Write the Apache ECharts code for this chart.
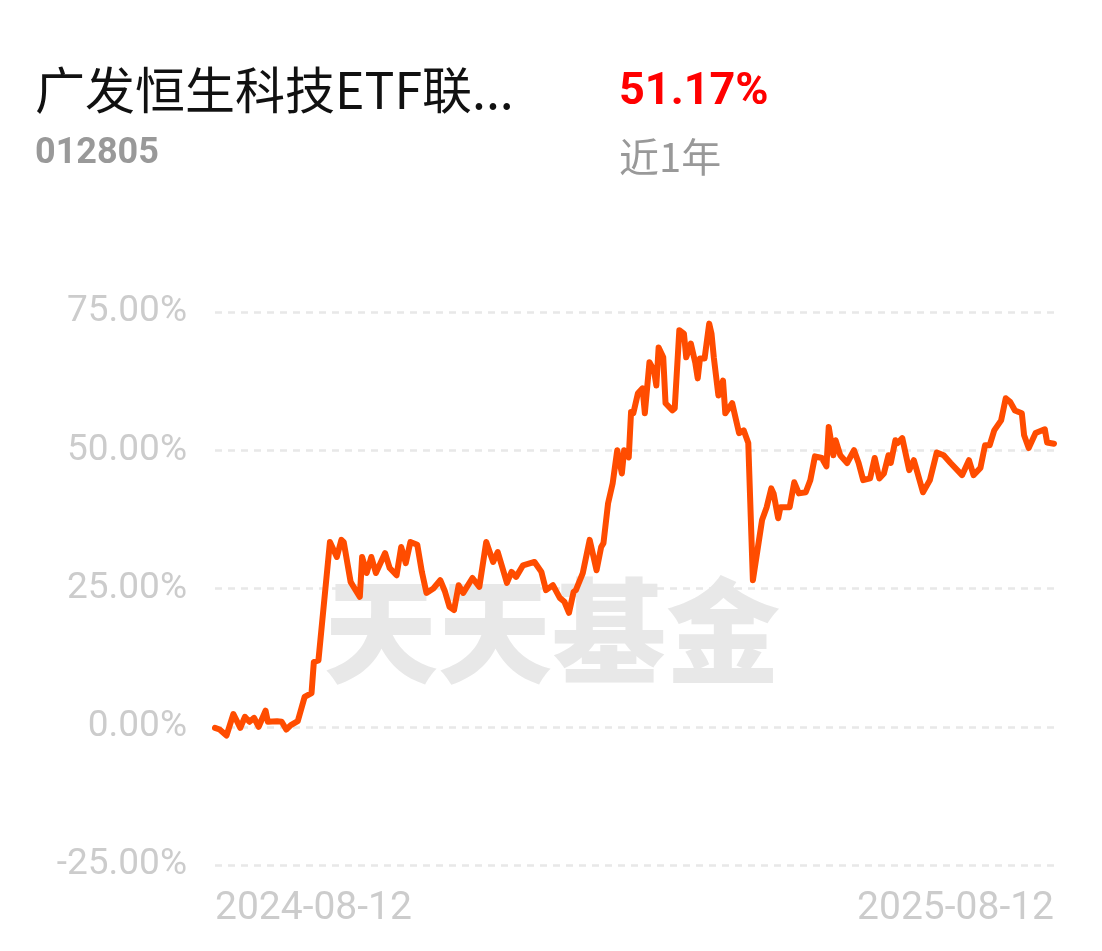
<!DOCTYPE html>
<html>
<head>
<meta charset="utf-8">
<script src="https://cdn.jsdelivr.net/npm/echarts@6/dist/echarts.min.js"></script>
<style>
html,body{margin:0;padding:0;background:#fff;}
#chart{width:1102px;height:951px;}
</style>
</head>
<body>
<div id="chart"></div>
<script>
// Day offsets from 2024-08-12 and cumulative return (%)
const dayOffsets = [0,2,5,8,11,13,15,17,19,22,23,27,29,31,33,36,39,42,43,45,50,53,55,56,59,60,63,64,66,68,70,74,76,79,81,83,85,88,90,92,95,98,100,102,104,106,108,112,115,118,121,123,127,129,131,134,139,142,144,147,150,152,154,156,157,160,163,166,168,169,171,173,175,177,178,180,181,182,184,186,187,189,191,192,193,195,196,199,200,202,204,205,207,209,210,211,213,215,216,217,219,221,222,225,228,230,232,234,238,240,242,243,245,246,250,252,254,257,259,261,264,266,267,269,270,272,275,278,280,282,285,287,289,291,293,294,296,297,299,302,304,305,308,311,314,317,320,325,328,330,333,335,337,339,342,344,346,348,351,352,354,357,361,362,365];
const returns = [-0.2,-0.5,-1.6,2.3,-0.2,1.8,0.9,1.6,0,2.9,0.9,1.0,0.9,-0.5,0.3,1.0,5.4,6.1,11.7,12,33.4,30.7,33.8,33.4,26.2,25.5,23.5,30.7,27.8,30.7,27.8,31.4,28.7,27.4,32.5,29.6,33.4,32.9,28,24.2,25.0,26.5,24.5,21.7,21.1,25.6,24.2,26.9,25.3,33.4,29.8,31.6,26,28,27.1,29.2,29.8,28,24.7,25.6,23.3,22.6,20.6,24.4,24.7,27.8,33.8,28.3,32.5,33.2,40.4,44,50,45.8,50,48.7,56.9,56.7,60.3,61.2,56.7,65.9,64.4,61.7,68.6,66.8,58.5,57.2,57.6,71.7,71.1,66.8,69.3,65.7,63,66.6,66.6,72.9,71.1,66.8,59.9,62.6,56.7,58.5,53.1,53.6,51.3,26.5,37.4,39.7,43.1,42.2,37.7,39.7,39.7,44.2,42.2,42.4,44.6,48.9,48.6,47.1,54.2,49.1,51.8,49.1,47.7,50,47.7,44.6,44.9,48.6,44.9,45.8,49.1,47.7,51.8,51.3,52.2,46.4,48.2,46.8,42.4,44.6,49.6,49.1,47.7,45.5,48.2,45.5,46.8,50.9,50.9,53.6,55.4,59.4,58.7,57.2,56.7,52.7,50.4,53.1,53.8,51.4,51.17];
const xTickLabels = ['2024-08-12','2025-08-12'];
const yTicks = [-25,0,25,50,75];
const fundName = '广发恒生科技ETF联...';
const fundCode = '012805';
const periodReturn = '51.17%';
const periodLabel = '近1年';
const watermark = '天天基金';

const chart = echarts.init(document.getElementById('chart'));
const seriesData = dayOffsets.map((d,i)=>[d, returns[i]]);
chart.setOption({
  animation:false,
  backgroundColor:'#ffffff',
  grid:{left:215,right:48,top:312,bottom:86,containLabel:false},
  xAxis:{
    type:'value',min:0,max:365,interval:365,
    axisLine:{show:false},axisTick:{show:false},splitLine:{show:false},
    axisLabel:{
      show:true,margin:25,color:'#cccccc',fontSize:39,fontFamily:'Roboto',
      alignMinLabel:'left',alignMaxLabel:'right',
      formatter:function(v){return v===0?xTickLabels[0]:(v===365?xTickLabels[1]:'');}
    }
  },
  yAxis:{
    type:'value',min:yTicks[0],max:yTicks[yTicks.length-1],interval:25,
    axisLine:{show:false},axisTick:{show:false},
    axisLabel:{margin:28,color:'#cccccc',fontSize:37,fontFamily:'Roboto',
      formatter:function(v){return v.toFixed(2)+'%';}},
    splitLine:{show:true,lineStyle:{type:[7,6],color:'#e8e8e8',width:2.5}}
  },
  graphic:[
    {type:'text',left:324,top:574,z:0,style:{text:watermark,font:'900 114px "Noto Sans CJK SC"',fill:'#e8e8e8'}},
    {type:'text',x:35,y:90,style:{text:fundName,font:'400 50px "Noto Sans CJK SC"',fill:'#111111',textVerticalAlign:'middle'}},
    {type:'text',x:35,y:154,style:{text:fundCode,font:'700 36px Roboto',fill:'#999999',textVerticalAlign:'middle'}},
    {type:'text',x:619,y:93,style:{text:periodReturn,font:'700 45px Roboto',fill:'#ff0000',textVerticalAlign:'middle'}},
    {type:'text',x:619,y:157,style:{text:periodLabel,font:'400 40px "Noto Sans CJK SC"',fill:'#999999',textVerticalAlign:'middle'}}
  ],
  series:[{
    type:'line',data:seriesData,showSymbol:false,smooth:false,z:5,
    lineStyle:{color:'#ff4c00',width:6,join:'round',cap:'round'}
  }]
});
</script>
</body>
</html>
